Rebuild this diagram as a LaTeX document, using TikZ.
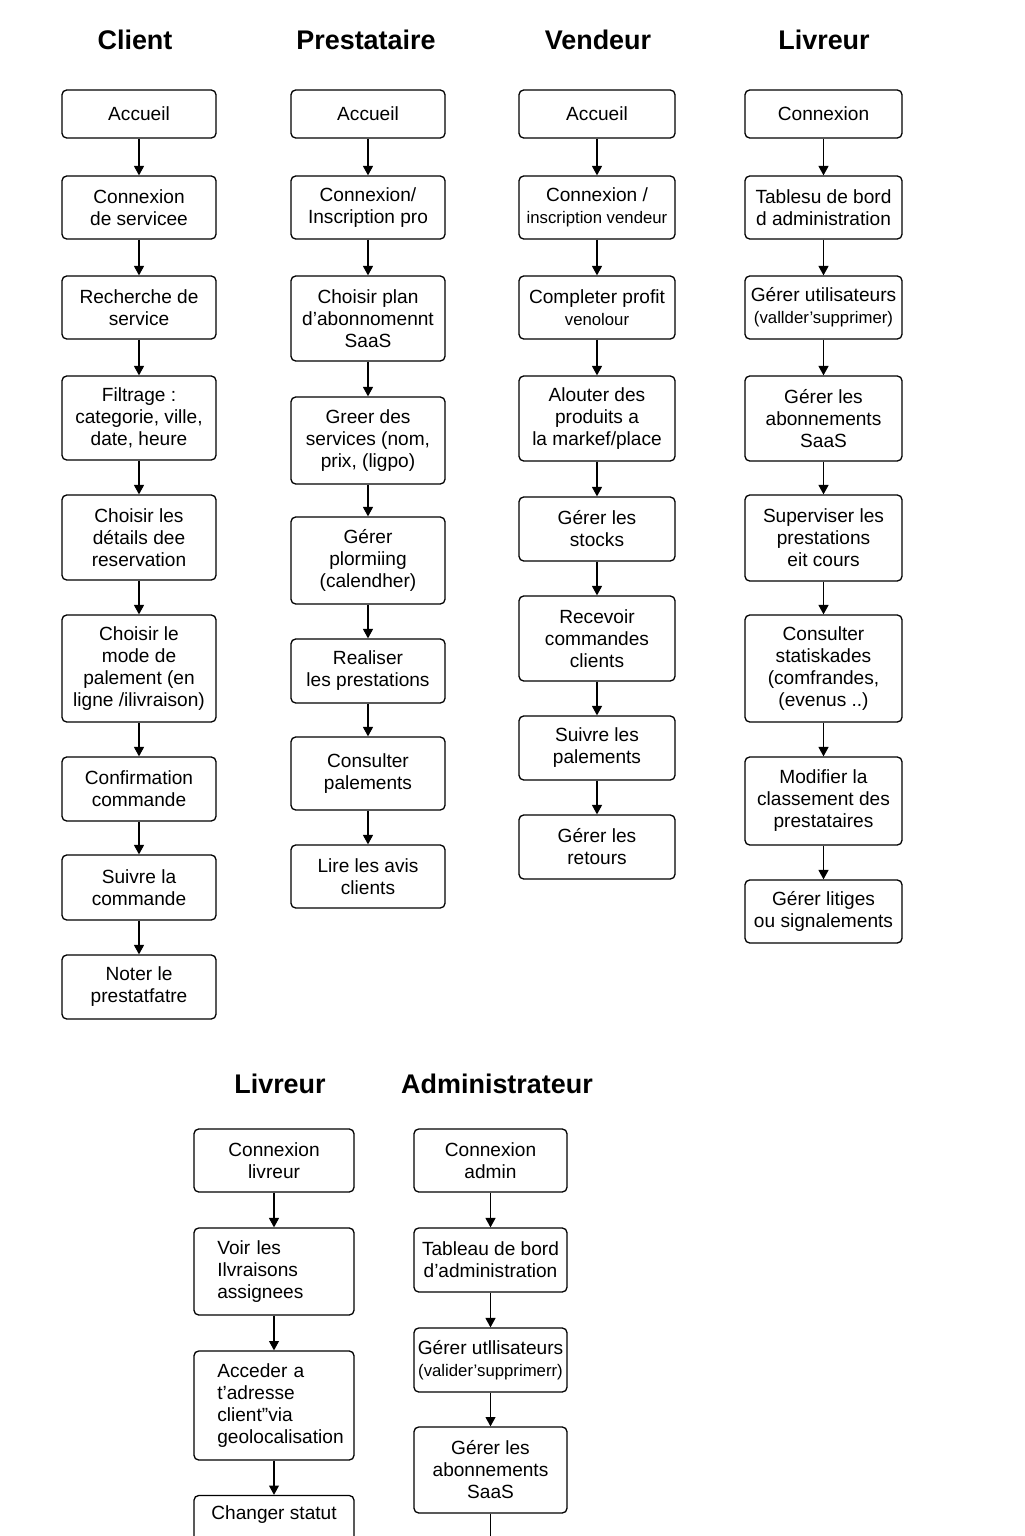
\documentclass[tikz,border=0pt]{standalone}
\usepackage{fontspec}
\setmainfont{Liberation Sans}
\usetikzlibrary{arrows.meta,positioning}
\newcommand{\smalltxt}{\fontsize{14.3}{16}\selectfont}
\tikzset{
  box/.style={draw,line width=1.1pt,rounded corners=4pt,align=center,inner sep=2pt,
    minimum width=#1*0.03cm,font=\fontsize{16.3}{18.8}\selectfont},
  box/.default=154,
  ht/.style={minimum height=#1*0.03cm},
  lane/.style={font=\fontsize{23}{26}\selectfont\bfseries},
  flow/.style={-{Triangle[length=8pt,width=8.5pt]},line width=1pt},
}

\begin{document}
\begin{tikzpicture}[x=0.03cm,y=-0.03cm]
\useasboundingbox (0,0) rectangle (1024,1536);
\fill[white] (0,0) rectangle (1024,1536);
\clip (0,0) rectangle (1024,1536);

\node[lane] (tc) at (135,40) {Client};
\node[lane] (tp) at (366,40) {Prestataire};
\node[lane] (tv) at (598,40) {Vendeur};
\node[lane] (tl) at (824,40) {Livreur};

\node[box,ht=48] (c1) at (139,114) {Accueil};
\node[box,ht=63] (c2) at (139,207.5) {Connexion\\de servicee};
\node[box,ht=63] (c3) at (139,307.5) {Recherche de\\service};
\node[box,ht=84] (c4) at (139,418) {Filtrage :\\categorie, ville,\\date, heure};
\node[box,ht=85] (c5) at (139,537.5) {Choisir les\\détails dee\\reservation};
\node[box,ht=107] (c6) at (139,668.5) {Choisir le\\mode de\\palement (en\\ligne /ilivraison)};
\node[box,ht=64] (c7) at (139,789) {Confirmation\\commande};
\node[box,ht=65] (c8) at (139,887.5) {Suivre la\\commande};
\node[box,ht=64] (c9) at (139,987) {Noter le\\prestatfatre};

\node[box,ht=48] (p1) at (368,114) {Accueil};
\node[box,ht=63] (p2) at (368,207.5) {Connexion/\\Inscription pro};
\node[box,ht=85] (p3) at (368,318.5) {Choisir plan\\d’abonnomennt\\SaaS};
\node[box,ht=87] (p4) at (368,440.5) {Greer des\\services (nom,\\prix, (ligpo)};
\node[box,ht=87] (p5) at (368,560.5) {Gérer\\plormiing\\(calendher)};
\node[box,ht=64] (p6) at (368,671) {Realiser\\les prestations};
\node[box,ht=73] (p7) at (368,773.5) {Consulter\\palements};
\node[box,ht=63] (p8) at (368,876.5) {Lire les avis\\clients};

\node[box=156,ht=48] (v1) at (597,114) {Accueil};
\node[box=156,ht=63] (v2) at (597,207.5) {Connexion /\\{\smalltxt inscription vendeur}};
\node[box=156,ht=63] (v3) at (597,307.5) {Completer profit\\{\smalltxt venolour}};
\node[box=156,ht=85] (v4) at (597,418.5) {Alouter des\\produits a\\la markef/place};
\node[box=156,ht=64] (v5) at (597,529) {Gérer les\\stocks};
\node[box=156,ht=85] (v6) at (597,638.5) {Recevoir\\commandes\\clients};
\node[box=156,ht=64] (v7) at (597,748) {Suivre les\\palements};
\node[box=156,ht=64] (v8) at (597,847) {Gérer les\\retours};

\node[box=157,ht=48] (l1) at (823.5,114) {Connexion};
\node[box=157,ht=63] (l2) at (823.5,207.5) {Tablesu de bord\\d administration};
\node[box=157,ht=63] (l3) at (823.5,307.5) {Gérer utilisateurs\\{\smalltxt (vallder'supprimer)}};
\node[box=157,ht=85] (l4) at (823.5,418.5) {Gérer les\\abonnements\\SaaS};
\node[box=157,ht=86] (l5) at (823.5,538) {Superviser les\\prestations\\eit cours};
\node[box=157,ht=107] (l6) at (823.5,668.5) {Consulter\\statiskades\\(comfrandes,\\(evenus ..)};
\node[box=157,ht=88] (l7) at (823.5,801) {Modifier la\\classement des\\prestataires};
\node[box=157,ht=63] (l8) at (823.5,911.5) {Gérer litiges\\ou signalements};

\foreach \i [count=\j from 2] in {1,...,8} \draw[flow] (c\i) -- (c\j);
\foreach \i [count=\j from 2] in {1,...,7} {
  \draw[flow] (p\i) -- (p\j);
  \draw[flow] (v\i) -- (v\j);
  \draw[flow] (l\i) -- (l\j);
}

\node[lane] (tlv) at (280,1084) {Livreur};
\node[lane] (tad) at (497,1084) {Administrateur};

\node[box=160,ht=63] (lv1) at (274,1160.5) {Connexion\\livreur};
\node[box=160,ht=87,align=left,text width=3.4cm] (lv2) at (274,1271.5) {Voir les\\Ilvraisons\\assignees};
\node[box=160,ht=109,align=left,text width=3.4cm] (lv3) at (274,1405.5) {Acceder a\\t’adresse\\client”via\\geolocalisation};
\node[box=160,ht=63] (lv4) at (274,1527) {Changer statut\\\strut};

\node[box=153,ht=63] (ad1) at (490.5,1160.5) {Connexion\\admin};
\node[box=153,ht=64] (ad2) at (490.5,1260) {Tableau de bord\\d’administration};
\node[box=153,ht=64] (ad3) at (490.5,1360) {Gérer utllisateurs\\{\smalltxt (valider'supprimerr)}};
\node[box=153,ht=86] (ad4) at (490.5,1470) {Gérer les\\abonnements\\SaaS};
\coordinate (adend) at (490.5,1570);

\foreach \i [count=\j from 2] in {1,...,3} {
  \draw[flow] (lv\i) -- (lv\j);
  \draw[flow] (ad\i) -- (ad\j);
}
\draw[flow] (ad4) -- (adend);
\end{tikzpicture}
\end{document}
